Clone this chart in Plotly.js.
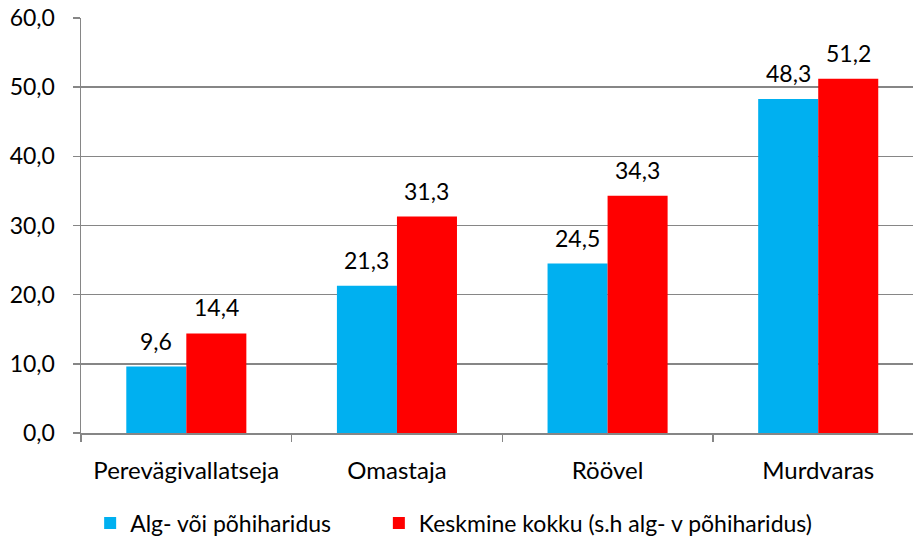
<!DOCTYPE html>
<html>
<head>
<meta charset="utf-8">
<script src="https://cdn.plot.ly/plotly-3.0.1.min.js"></script>
<style>html,body{margin:0;padding:0;background:#fff;}#chart{width:913px;height:537px;}</style>
</head>
<body>
<div id="chart"></div>
<script>
const categories = ["Perevägivallatseja", "Omastaja", "Röövel", "Murdvaras"];
const seriesNames = ["Alg- või põhiharidus", "Keskmine kokku (s.h alg- v põhiharidus)"];
const basicEdu = [9.6, 21.3, 24.5, 48.3];
const secondaryTotal = [14.4, 31.3, 34.3, 51.2];
const yTicks = [0, 10, 20, 30, 40, 50, 60];

const FONT = "Lato, 'Open Sans', sans-serif";
const colors = ["#00B0F0", "#FF0000"];
const seriesValues = [basicEdu, secondaryTotal];
const legendIds = ["legend", "legend2"];

const traces = seriesValues.map((vals, s) => ({
  type: "bar",
  name: seriesNames[s],
  x: categories,
  y: vals,
  marker: {color: colors[s]},
  legend: legendIds[s],
  hoverinfo: "skip"
}));

const annotations = [];
seriesValues.forEach((vals, s) => {
  vals.forEach((v, i) => {
    annotations.push({
      x: i + (s === 0 ? -0.1425 : 0.1425),
      y: v,
      xref: "x", yref: "y",
      text: v.toFixed(1).replace(".", ","),
      showarrow: false,
      yanchor: "bottom",
      yshift: 10,
      font: {family: FONT, size: 23, color: "#000"}
    });
  });
});

const legendBase = {
  orientation: "h",
  xanchor: "left",
  yref: "container",
  y: 0.066, yanchor: "top",
  font: {family: FONT, size: 23, color: "#000"},
  itemwidth: 30,
  bgcolor: "rgba(0,0,0,0)"
};

const layout = {
  width: 913, height: 537,
  margin: {l: 81, r: 0, t: 18, b: 104, autoexpand: false},
  paper_bgcolor: "#fff", plot_bgcolor: "#fff",
  separators: ", ",
  barmode: "group",
  bargap: 0.43,
  bargroupgap: 0,
  font: {family: FONT, size: 23, color: "#000"},
  xaxis: {
    type: "category",
    range: [-0.5, 3.45],
    showgrid: false,
    showline: true, linecolor: "#868686", linewidth: 1.5,
    ticks: "outside", ticklen: 7, tickcolor: "#868686", tickwidth: 1.5,
    tickson: "boundaries",
    ticklabelstandoff: 16,
    tickfont: {family: FONT, size: 24, color: "#000"},
    automargin: false,
    fixedrange: true
  },
  yaxis: {
    range: [0, 60],
    tickvals: yTicks,
    tickformat: ".1f",
    showgrid: true, gridcolor: "#868686", gridwidth: 1.5,
    showline: true, linecolor: "#868686", linewidth: 1.5,
    ticks: "outside", ticklen: 7, tickcolor: "#868686", tickwidth: 1.5,
    ticklabelstandoff: 13,
    tickfont: {family: FONT, size: 23, color: "#000"},
    zeroline: false,
    automargin: false,
    fixedrange: true
  },
  showlegend: true,
  legend: Object.assign({}, legendBase, {x: 0.011}),
  legend2: Object.assign({}, legendBase, {x: 0.358}),
  annotations: annotations
};

Plotly.newPlot("chart", traces, layout, {displayModeBar: false, staticPlot: true});
</script>
</body>
</html>
